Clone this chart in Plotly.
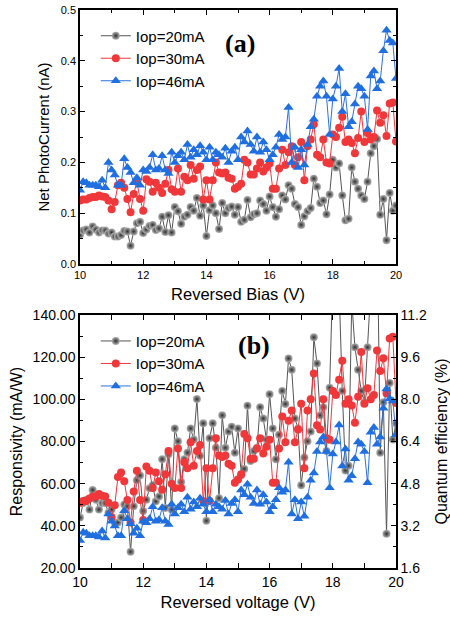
import plotly.graph_objects as go

voltage = [10.0, 10.1, 10.2, 10.3, 10.4, 10.5, 10.6, 10.7, 10.8, 10.9,
           11.0, 11.1, 11.2, 11.3, 11.4, 11.5, 11.6, 11.7, 11.8, 11.9,
           12.0, 12.1, 12.2, 12.3, 12.4, 12.5, 12.6, 12.7, 12.8, 12.9,
           13.0, 13.1, 13.2, 13.3, 13.4, 13.5, 13.6, 13.7, 13.8, 13.9,
           14.0, 14.1, 14.2, 14.3, 14.4, 14.5, 14.6, 14.7, 14.8, 14.9,
           15.0, 15.1, 15.2, 15.3, 15.4, 15.5, 15.6, 15.7, 15.8, 15.9,
           16.0, 16.1, 16.2, 16.3, 16.4, 16.5, 16.6, 16.7, 16.8, 16.9,
           17.0, 17.1, 17.2, 17.3, 17.4, 17.5, 17.6, 17.7, 17.8, 17.9,
           18.0, 18.1, 18.2, 18.3, 18.4, 18.5, 18.6, 18.7, 18.8, 18.9,
           19.0, 19.1, 19.2, 19.3, 19.4, 19.5, 19.6, 19.7, 19.8, 19.9, 20.0]

# Panel (a): net photocurrent (nA)
pc_20 = [0.057, 0.066, 0.068, 0.062, 0.074, 0.068, 0.062, 0.066, 0.066, 0.060,
         0.062, 0.054, 0.054, 0.057, 0.065, 0.064, 0.036, 0.064, 0.080, 0.083,
         0.061, 0.068, 0.075, 0.077, 0.067, 0.070, 0.093, 0.063, 0.096, 0.062,
         0.112, 0.104, 0.079, 0.093, 0.097, 0.112, 0.105, 0.130, 0.095, 0.115,
         0.055, 0.106, 0.115, 0.100, 0.069, 0.120, 0.100, 0.110, 0.113, 0.097,
         0.112, 0.083, 0.087, 0.126, 0.092, 0.098, 0.100, 0.125, 0.118, 0.105,
         0.133, 0.112, 0.093, 0.108, 0.135, 0.127, 0.155, 0.148, 0.118, 0.112,
         0.077, 0.094, 0.104, 0.110, 0.168, 0.152, 0.120, 0.125, 0.098, 0.137,
         0.205, 0.190, 0.198, 0.135, 0.086, 0.089, 0.190, 0.162, 0.148, 0.135,
         0.128, 0.162, 0.218, 0.232, 0.246, 0.097, 0.128, 0.047, 0.140, 0.105, 0.115]
pc_30 = [0.125, 0.127, 0.127, 0.130, 0.132, 0.132, 0.135, 0.133, 0.132, 0.125,
         0.108, 0.122, 0.155, 0.160, 0.150, 0.128, 0.102, 0.138, 0.162, 0.128,
         0.105, 0.167, 0.162, 0.142, 0.160, 0.150, 0.140, 0.158, 0.185, 0.147,
         0.142, 0.188, 0.142, 0.172, 0.165, 0.195, 0.168, 0.185, 0.192, 0.127,
         0.165, 0.127, 0.165, 0.200, 0.180, 0.178, 0.180, 0.170, 0.168, 0.148,
         0.152, 0.158, 0.205, 0.200, 0.176, 0.176, 0.188, 0.200, 0.182, 0.190,
         0.198, 0.148, 0.148, 0.188, 0.225, 0.195, 0.220, 0.232, 0.195, 0.210,
         0.240, 0.165, 0.232, 0.245, 0.275, 0.215, 0.210, 0.245, 0.200, 0.198,
         0.255, 0.250, 0.268, 0.290, 0.240, 0.245, 0.238, 0.218, 0.248, 0.300,
         0.240, 0.258, 0.245, 0.250, 0.302, 0.278, 0.293, 0.252, 0.316, 0.318, 0.241]
pc_46 = [0.145, 0.162, 0.160, 0.155, 0.155, 0.155, 0.152, 0.165, 0.150, 0.200,
         0.185, 0.175, 0.155, 0.155, 0.207, 0.190, 0.180, 0.160, 0.170, 0.155,
         0.185, 0.182, 0.190, 0.215, 0.185, 0.188, 0.213, 0.185, 0.178, 0.220,
         0.200, 0.213, 0.220, 0.205, 0.235, 0.210, 0.225, 0.215, 0.233, 0.220,
         0.205, 0.230, 0.205, 0.220, 0.215, 0.210, 0.228, 0.200, 0.222, 0.230,
         0.205, 0.250, 0.240, 0.262, 0.235, 0.222, 0.250, 0.220, 0.240, 0.225,
         0.205, 0.215, 0.230, 0.255, 0.245, 0.250, 0.308, 0.200, 0.230, 0.190,
         0.225, 0.195, 0.235, 0.270, 0.285, 0.330, 0.350, 0.360, 0.330, 0.255,
         0.325, 0.350, 0.385, 0.300, 0.335, 0.270, 0.280, 0.315, 0.350, 0.345,
         0.330, 0.265, 0.370, 0.380, 0.345, 0.360, 0.420, 0.460, 0.440, 0.435, 0.365]

# Panel (b): responsivity (mA/W)
resp_20 = [43.9, 50.8, 52.4, 47.7, 57.0, 52.4, 47.7, 50.8, 50.8, 46.2,
           47.7, 41.6, 41.6, 43.9, 50.1, 49.3, 27.7, 49.3, 61.6, 63.9,
           47.0, 52.4, 57.8, 59.3, 51.6, 53.9, 71.6, 48.5, 73.9, 47.7,
           86.2, 80.1, 60.8, 71.6, 74.7, 86.2, 80.9, 100.1, 73.2, 88.6,
           42.4, 81.6, 88.6, 77.0, 53.1, 92.4, 77.0, 84.7, 87.0, 74.7,
           86.2, 63.9, 67.0, 97.0, 70.8, 75.5, 77.0, 96.3, 90.9, 80.9,
           102.4, 86.2, 71.6, 83.2, 104.0, 97.8, 119.4, 114.0, 90.9, 86.2,
           59.3, 72.4, 80.1, 84.7, 129.4, 117.0, 92.4, 96.3, 75.5, 105.5,
           157.9, 146.3, 152.5, 104.0, 66.2, 68.5, 146.3, 124.7, 114.0, 104.0,
           98.6, 124.7, 167.9, 178.6, 189.4, 74.7, 98.6, 36.2, 107.8, 80.9, 88.6]
resp_30 = [51.0, 51.8, 51.8, 53.0, 53.9, 53.9, 55.1, 54.3, 53.9, 51.0,
           44.1, 49.8, 63.2, 65.3, 61.2, 52.2, 41.6, 56.3, 66.1, 52.2,
           42.8, 68.1, 66.1, 57.9, 65.3, 61.2, 57.1, 64.5, 75.5, 60.0,
           57.9, 76.7, 57.9, 70.2, 67.3, 79.6, 68.5, 75.5, 78.3, 51.8,
           67.3, 51.8, 67.3, 81.6, 73.4, 72.6, 73.4, 69.4, 68.5, 60.4,
           62.0, 64.5, 83.6, 81.6, 71.8, 71.8, 76.7, 81.6, 74.3, 77.5,
           80.8, 60.4, 60.4, 76.7, 91.8, 79.6, 89.8, 94.7, 79.6, 85.7,
           97.9, 67.3, 94.7, 100.0, 112.2, 87.7, 85.7, 100.0, 81.6, 80.8,
           104.0, 102.0, 109.3, 118.3, 97.9, 100.0, 97.1, 88.9, 101.2, 122.4,
           97.9, 105.3, 100.0, 102.0, 123.2, 113.4, 119.5, 102.8, 128.9, 129.7, 98.3]
resp_46 = [33.1, 36.9, 36.5, 35.3, 35.3, 35.3, 34.7, 37.6, 34.2, 45.6,
           42.2, 39.9, 35.3, 35.3, 47.2, 43.3, 41.0, 36.5, 38.8, 35.3,
           42.2, 41.5, 43.3, 49.0, 42.2, 42.9, 48.6, 42.2, 40.6, 50.2,
           45.6, 48.6, 50.2, 46.7, 53.6, 47.9, 51.3, 49.0, 53.1, 50.2,
           46.7, 52.4, 46.7, 50.2, 49.0, 47.9, 52.0, 45.6, 50.6, 52.4,
           46.7, 57.0, 54.7, 59.7, 53.6, 50.6, 57.0, 50.2, 54.7, 51.3,
           46.7, 49.0, 52.4, 58.1, 55.9, 57.0, 70.2, 45.6, 52.4, 43.3,
           51.3, 44.5, 53.6, 61.6, 65.0, 75.2, 79.8, 82.1, 75.2, 58.1,
           74.1, 79.8, 87.8, 68.4, 76.4, 61.6, 63.8, 71.8, 79.8, 78.7,
           75.2, 60.4, 84.4, 86.6, 78.7, 82.1, 95.8, 104.9, 100.3, 99.2, 83.2]

labels = ["Iop=20mA", "Iop=30mA", "Iop=46mA"]

FONT = "Liberation Sans, Arial, sans-serif"
SERIF = "Liberation Serif, Times New Roman, serif"

styles = [
    dict(line=dict(color="#555555", width=1),
         marker=dict(symbol="circle", size=8, color="#b4b4b4",
                     gradient=dict(type="radial", color="#2e2e2e"),
                     line=dict(width=0))),
    dict(line=dict(color="#f0373a", width=1),
         marker=dict(symbol="circle", size=8, color="#f0373a", line=dict(width=0))),
    dict(line=dict(color="#2a72dc", width=1),
         marker=dict(symbol="triangle-up", size=9, color="#1f6fe0", line=dict(width=0))),
]

fig = go.Figure()
for lab, ys, st in zip(labels, [pc_20, pc_30, pc_46], styles):
    fig.add_trace(go.Scatter(x=voltage, y=ys, name=lab, mode="lines+markers",
                             xaxis="x", yaxis="y", legend="legend", **st))
for lab, ys, st in zip(labels, [resp_20, resp_30, resp_46], styles):
    fig.add_trace(go.Scatter(x=voltage, y=ys, name=lab, mode="lines+markers",
                             xaxis="x2", yaxis="y2", legend="legend2", **st))
# empty trace so the quantum-efficiency axis (y3) is drawn
fig.add_trace(go.Scatter(x=[], y=[], xaxis="x2", yaxis="y3", showlegend=False,
                         hoverinfo="skip"))

axis_common = dict(showline=True, linecolor="black", linewidth=1.5,
                   ticks="inside", ticklen=5, tickwidth=1.2, tickcolor="black",
                   showgrid=False, zeroline=False, automargin=False)
minor_common = dict(ticks="inside", ticklen=3, tickcolor="black", tickwidth=1, showgrid=False)

fig.update_layout(
    width=450, height=619,
    margin=dict(l=80, r=54, t=10, b=51),
    paper_bgcolor="white", plot_bgcolor="white",
    font=dict(family=FONT, color="black"),
    xaxis=dict(domain=[0, 1], anchor="y", range=[10, 20], dtick=2, mirror="allticks",
               minor=dict(dtick=1, **minor_common),
               tickfont=dict(size=11),
               title=dict(text="Reversed Bias (V)", font=dict(size=16.5), standoff=8),
               **axis_common),
    yaxis=dict(domain=[0.5448, 1], anchor="x", range=[0, 0.5], dtick=0.1, tickformat=".1f",
               mirror="allticks",
               minor=dict(dtick=0.05, **minor_common),
               tickfont=dict(size=11),
               title=dict(text="Net PhotoCurrent (nA)", font=dict(size=15), standoff=8),
               **axis_common),
    xaxis2=dict(domain=[0, 1], anchor="y2", range=[10, 20], dtick=2, mirror="allticks",
                minor=dict(dtick=1, **minor_common),
                tickfont=dict(size=14),
                title=dict(text="Reversed voltage (V)", font=dict(size=16.5), standoff=8),
                **axis_common),
    yaxis2=dict(domain=[0, 0.4534], anchor="x2", range=[20, 140], dtick=20, tickformat=".2f",
                minor=dict(dtick=10, **minor_common),
                tickfont=dict(size=14),
                title=dict(text="Responsivity (mA/W)", font=dict(size=16), standoff=6),
                **axis_common),
    yaxis3=dict(anchor="x2", overlaying="y2", side="right", range=[1.6, 11.2],
                tick0=1.6, dtick=1.6, tickformat=".1f",
                minor=dict(dtick=0.8, **minor_common),
                tickfont=dict(size=14),
                title=dict(text="Quantum efficiency (%)", font=dict(size=16), standoff=10),
                **axis_common),
    legend=dict(x=0.05, y=0.983, xanchor="left", yanchor="top", bgcolor="rgba(0,0,0,0)",
                font=dict(size=15), tracegroupgap=0, itemwidth=30),
    legend2=dict(x=0.05, y=0.436, xanchor="left", yanchor="top", bgcolor="rgba(0,0,0,0)",
                 font=dict(size=15), tracegroupgap=0, itemwidth=30),
    showlegend=True,
    annotations=[
        dict(text="<b>(a)</b>", x=0.506, y=0.87, xref="x domain", yref="y domain",
             xanchor="center", yanchor="middle",
             showarrow=False, font=dict(family=SERIF, size=26)),
        dict(text="<b>(b)</b>", x=0.552, y=0.881, xref="x2 domain", yref="y2 domain",
             xanchor="center", yanchor="middle",
             showarrow=False, font=dict(family=SERIF, size=26)),
    ],
)

fig.write_html("out.html")
